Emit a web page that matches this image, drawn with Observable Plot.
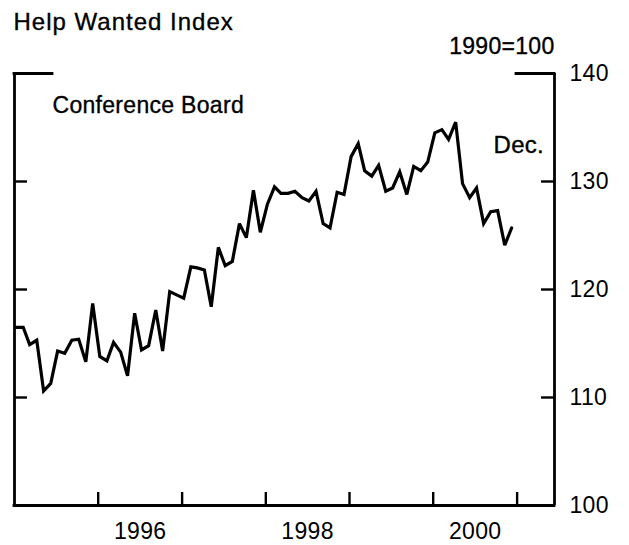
<!DOCTYPE html>
<html>
<head>
<meta charset="utf-8">
<script src="https://cdn.jsdelivr.net/npm/d3@7"></script>
<script src="https://cdn.jsdelivr.net/npm/@observablehq/plot@0.6"></script>
<style>
  html, body { margin: 0; padding: 0; background: #fff; }
  svg { display: block; }
</style>
</head>
<body>
<div id="chart"></div>
<script>
// Monthly Help Wanted Index (1990=100), Jan 1995 – Dec 2000
const startYear = 1995;
const values = [
  116.5,116.5,114.9,115.3,110.6,111.3,114.3,114.1,115.3,115.4,113.3,118.7,
  113.8,113.4,115.1,114.2,112.0,117.8,114.4,114.8,118.1,114.3,119.8,119.5,
  119.2,122.1,122.0,121.8,118.4,123.9,122.2,122.6,126.1,124.8,129.2,125.3,
  127.9,129.5,128.9,128.9,129.1,128.5,128.2,129.1,126.1,125.7,129.0,128.8,
  132.3,133.5,131.0,130.5,131.5,129.1,129.4,130.9,128.8,131.4,131.0,131.8,
  134.5,134.8,133.9,135.5,129.8,128.5,129.4,126.1,127.2,127.3,124.1,125.7
];
const yTicks = [100, 110, 120, 130, 140];
const yInnerTicks = [110, 120, 130];
const xLabels = ["1996", "1998", "2000"];
const xLabelYears = [1996, 1998, 2000];
const xTickYears = [1996, 1997, 1998, 1999, 2000, 2001];
const title = "Help Wanted Index";
const unitNote = "1990=100";
const seriesNote = "Conference Board";
const endNote = "Dec.";

const data = values.map((v, i) => ({date: new Date(Date.UTC(startYear, i, 8)), value: v}));
const labelDates = xLabelYears.map(y => new Date(Date.UTC(y, 6, 2)));
const tickDates = xTickYears.map(y => new Date(Date.UTC(y, 0, 1)));
const xDomain = [new Date(Date.UTC(1995, 0, 1)), new Date(Date.UTC(2001, 5, 13))];

const W = 629, H = 545;
const mL = 14, mR = 75, mT = 73, mB = 40;
const fw = W - mL - mR, fh = H - mT - mB;
const tl = 13;   // inner tick length
const topSeg = 38;
const font = "'Liberation Sans', Arial, Helvetica, sans-serif";
const fs = 23;

const chart = Plot.plot({
  width: W,
  height: H,
  marginLeft: mL,
  marginRight: mR,
  marginTop: mT,
  marginBottom: mB,
  style: {fontFamily: font, fontSize: fs + "px", color: "#000", background: "#fff", overflow: "visible", letterSpacing: "0.3px"},
  x: {type: "utc", domain: xDomain},
  y: {domain: [100, 140]},
  marks: [
    // frame: left, right, bottom
    Plot.ruleX(xDomain, {stroke: "#000", strokeWidth: 2.8}),
    Plot.ruleY([100], {stroke: "#000", strokeWidth: 2.8, strokeLinecap: "square"}),
    // top corner segments
    Plot.ruleY([140], {insetRight: fw - topSeg, stroke: "#000", strokeWidth: 2.8, strokeLinecap: "square"}),
    Plot.ruleY([140], {insetLeft: fw - topSeg, stroke: "#000", strokeWidth: 2.8, strokeLinecap: "square"}),
    // inner ticks
    Plot.ruleY(yInnerTicks, {insetRight: fw - tl, stroke: "#000", strokeWidth: 2.4}),
    Plot.ruleY(yInnerTicks, {insetLeft: fw - tl, stroke: "#000", strokeWidth: 2.4}),
    Plot.ruleX(tickDates, {insetTop: fh - tl, stroke: "#000", strokeWidth: 2.4}),
    // axes labels
    Plot.axisY({anchor: "right", ticks: yTicks, tickSize: 0, tickPadding: 15, label: null, fontSize: fs,
      stroke: "#000", strokeWidth: 0.35}),
    Plot.axisX({ticks: labelDates, tickSize: 0, tickPadding: 17, label: null, fontSize: fs,
      stroke: "#000", strokeWidth: 0.35,
      tickFormat: d => xLabels[labelDates.findIndex(t => +t === +d)]}),
    // series
    Plot.line(data, {x: "date", y: "value", stroke: "#000", strokeWidth: 3.2, strokeLinejoin: "miter", strokeMiterlimit: 3}),
    // annotations
    Plot.text([title], {frameAnchor: "top-left", textAnchor: "start", lineAnchor: "bottom", dx: -1, dy: -44, fontSize: 24, fill: "#000", stroke: "#000", strokeWidth: 0.35}),
    Plot.text([unitNote], {frameAnchor: "top-right", textAnchor: "end", lineAnchor: "bottom", dx: 0, dy: -20, fontSize: fs, fill: "#000", stroke: "#000", strokeWidth: 0.35}),
    Plot.text([seriesNote], {frameAnchor: "top-left", textAnchor: "start", lineAnchor: "bottom", dx: 38, dy: 39, fontSize: fs, fill: "#000", stroke: "#000", strokeWidth: 0.35}),
    Plot.text([endNote], {frameAnchor: "top-right", textAnchor: "start", lineAnchor: "bottom", dx: -61, dy: 79, fontSize: fs + 1, fill: "#000", stroke: "#000", strokeWidth: 0.35})
  ]
});
d3.select(chart).selectAll("text").filter(function() { return this.textContent === title; })
  .attr("letter-spacing", "1px");
document.getElementById("chart").appendChild(chart);
</script>
</body>
</html>
